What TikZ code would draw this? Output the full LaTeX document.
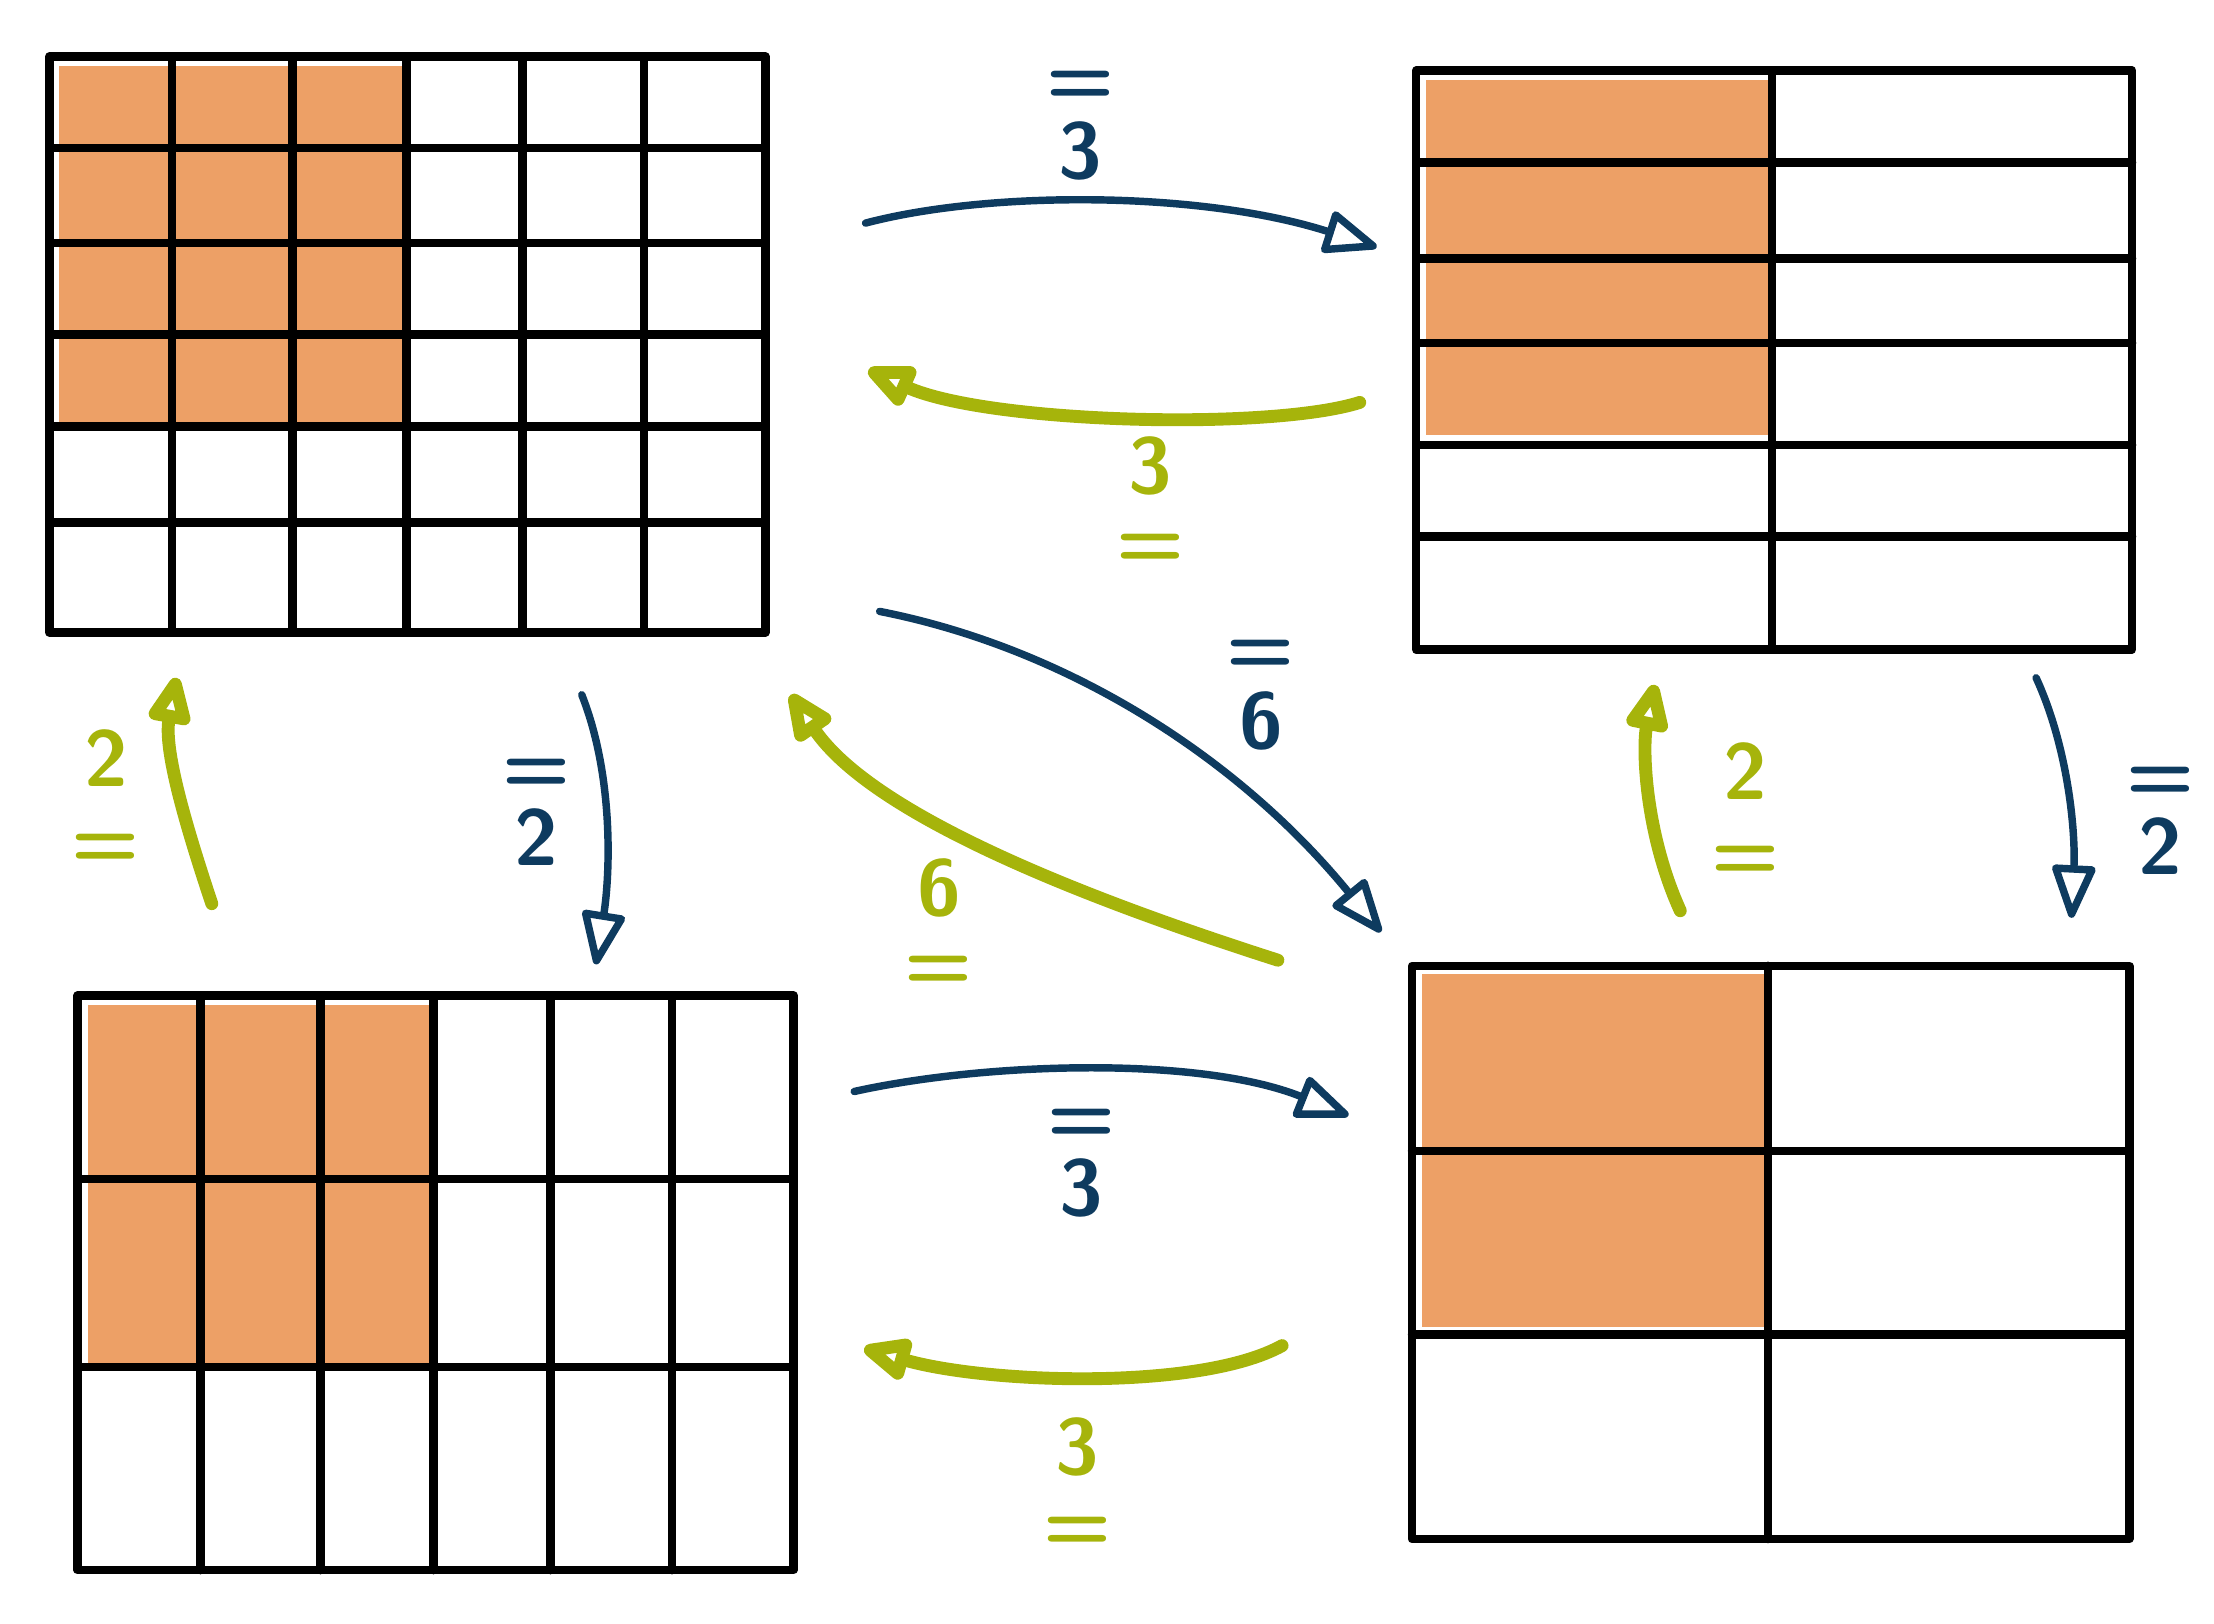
\documentclass[tikz,border=0pt]{standalone}
\usepackage{xcolor}
\usepackage{tikz}
\usetikzlibrary{arrows.meta,calc,positioning}
\definecolor{divblue}{HTML}{0E3B5F}
\definecolor{mulgreen}{HTML}{A6B40B}
\definecolor{partorange}{HTML}{EDA066}
\tikzset{
  gridline/.style={line width=1.7pt,black,line cap=round,line join=round},
  partfill/.style={fill=partorange,draw=none},
  divarrow/.style={-{Triangle[open,length=4.2mm,width=3.2mm,round]},line width=1.5pt,divblue,line cap=round},
  mularrow/.style={-{Triangle[open,length=4mm,width=3.2mm,round]},line width=2.6pt,mulgreen,line cap=round},
  divlabel/.style={divblue,inner sep=0pt,font=\sffamily\bfseries\fontsize{16}{18}\selectfont},
  mullabel/.style={mulgreen,inner sep=0pt,font=\sffamily\bfseries\fontsize{16}{18}\selectfont}
}
\begin{document}
\begin{tikzpicture}[x=0.1mm,y=-0.1mm]
  \useasboundingbox (0,0) rectangle (1568,1150);
  % shaded parts
  \fill[partfill] (42,47) rectangle (290,300);
  \fill[partfill] (1010,57) rectangle (1252,308);
  \fill[partfill] (62,712) rectangle (310,965);
  \fill[partfill] (1007,690) rectangle (1250,940);
  % grid 6x6
  \draw[gridline] (35,40) rectangle (542,448);
  \foreach \x in {122,207,288,370,456} \draw[gridline] (\x,40) -- (\x,448);
  \foreach \y in {105,172,237,302,370} \draw[gridline] (35,\y) -- (542,\y);
  % grid 2x6
  \draw[gridline] (1003,50) rectangle (1510,460);
  \draw[gridline] (1255,50) -- (1255,460);
  \foreach \y in {115,183,243,315,380} \draw[gridline] (1003,\y) -- (1510,\y);
  % grid 6x3
  \draw[gridline] (55,705) rectangle (562,1112);
  \foreach \x in {142,227,307,390,476} \draw[gridline] (\x,705) -- (\x,1112);
  \foreach \y in {835,968} \draw[gridline] (55,\y) -- (562,\y);
  % grid 2x3
  \draw[gridline] (1000,684) rectangle (1508,1090);
  \draw[gridline] (1252,684) -- (1252,1090);
  \foreach \y in {815,945} \draw[gridline] (1000,\y) -- (1508,\y);
  % arrow ends
  \coordinate (tla) at (613,158);  \coordinate (tra) at (975,175);
  \coordinate (trb) at (963,285);  \coordinate (tlb) at (615,262);
  \coordinate (tlc) at (623,433);  \coordinate (brc) at (978,660);
  \coordinate (brd) at (905,680);  \coordinate (tld) at (560,492);
  \coordinate (bla) at (605,773);  \coordinate (bra) at (955,790);
  \coordinate (brb) at (908,953);  \coordinate (blb) at (612,955);
  \coordinate (blu) at (150,640);  \coordinate (tlu) at (125,480);
  \coordinate (tldn) at (412,492); \coordinate (bldn) at (422,683);
  \coordinate (bru) at (1190,645); \coordinate (tru) at (1172,485);
  \coordinate (trdn) at (1442,480); \coordinate (brdn) at (1467,650);
  % arrows
  \draw[divarrow] (tla) .. controls (700,135) and (850,135) .. (tra);
  \draw[mularrow] (trb) .. controls (900,305) and (700,300) .. (tlb);
  \draw[divarrow] (tlc) .. controls (760,460) and (880,540) .. (brc);
  \draw[mularrow] (brd) .. controls (780,640) and (620,580) .. (tld);
  \draw[divarrow] (bla) .. controls (700,752) and (850,748) .. (bra);
  \draw[mularrow] (brb) .. controls (850,985) and (700,980) .. (blb);
  \draw[mularrow] (blu) .. controls (130,580) and (116,530) .. (tlu);
  \draw[divarrow] (tldn) .. controls (435,550) and (432,620) .. (bldn);
  \draw[mularrow] (bru) .. controls (1165,590) and (1163,530) .. (tru);
  \draw[divarrow] (trdn) .. controls (1465,530) and (1470,590) .. (brdn);
  % labels
  \node[divlabel] (eqtop) at (765,62) {=};
  \node[divlabel,below=1.1mm of eqtop] (numtop) {3};
  \node[mullabel] (numtopback) at (815,330) {3};
  \node[mullabel,below=2.6mm of numtopback] (eqtopback) {=};
  \node[divlabel] (eqdiag) at (893,465) {=};
  \node[divlabel,below=1.2mm of eqdiag] (numdiag) {6};
  \node[mullabel] (numdiagback) at (665,629) {6};
  \node[mullabel,below=2.6mm of numdiagback] (eqdiagback) {=};
  \node[divlabel] (eqbot) at (766,797) {=};
  \node[divlabel,below=1.1mm of eqbot] (numbot) {3};
  \node[mullabel] (numbotback) at (763,1025) {3};
  \node[mullabel,below=2.7mm of numbotback] (eqbotback) {=};
  \node[mullabel] (numleftup) at (75,537) {2};
  \node[mullabel,below=3.2mm of numleftup] (eqleftup) {=};
  \node[divlabel] (eqleftdown) at (380,549) {=};
  \node[divlabel,below=1.1mm of eqleftdown] (numleftdown) {2};
  \node[mullabel] (numrightup) at (1236,546) {2};
  \node[mullabel,below=3.2mm of numrightup] (eqrightup) {=};
  \node[divlabel] (eqrightdown) at (1530,555) {=};
  \node[divlabel,below=1.1mm of eqrightdown] (numrightdown) {2};
\end{tikzpicture}
\end{document}
